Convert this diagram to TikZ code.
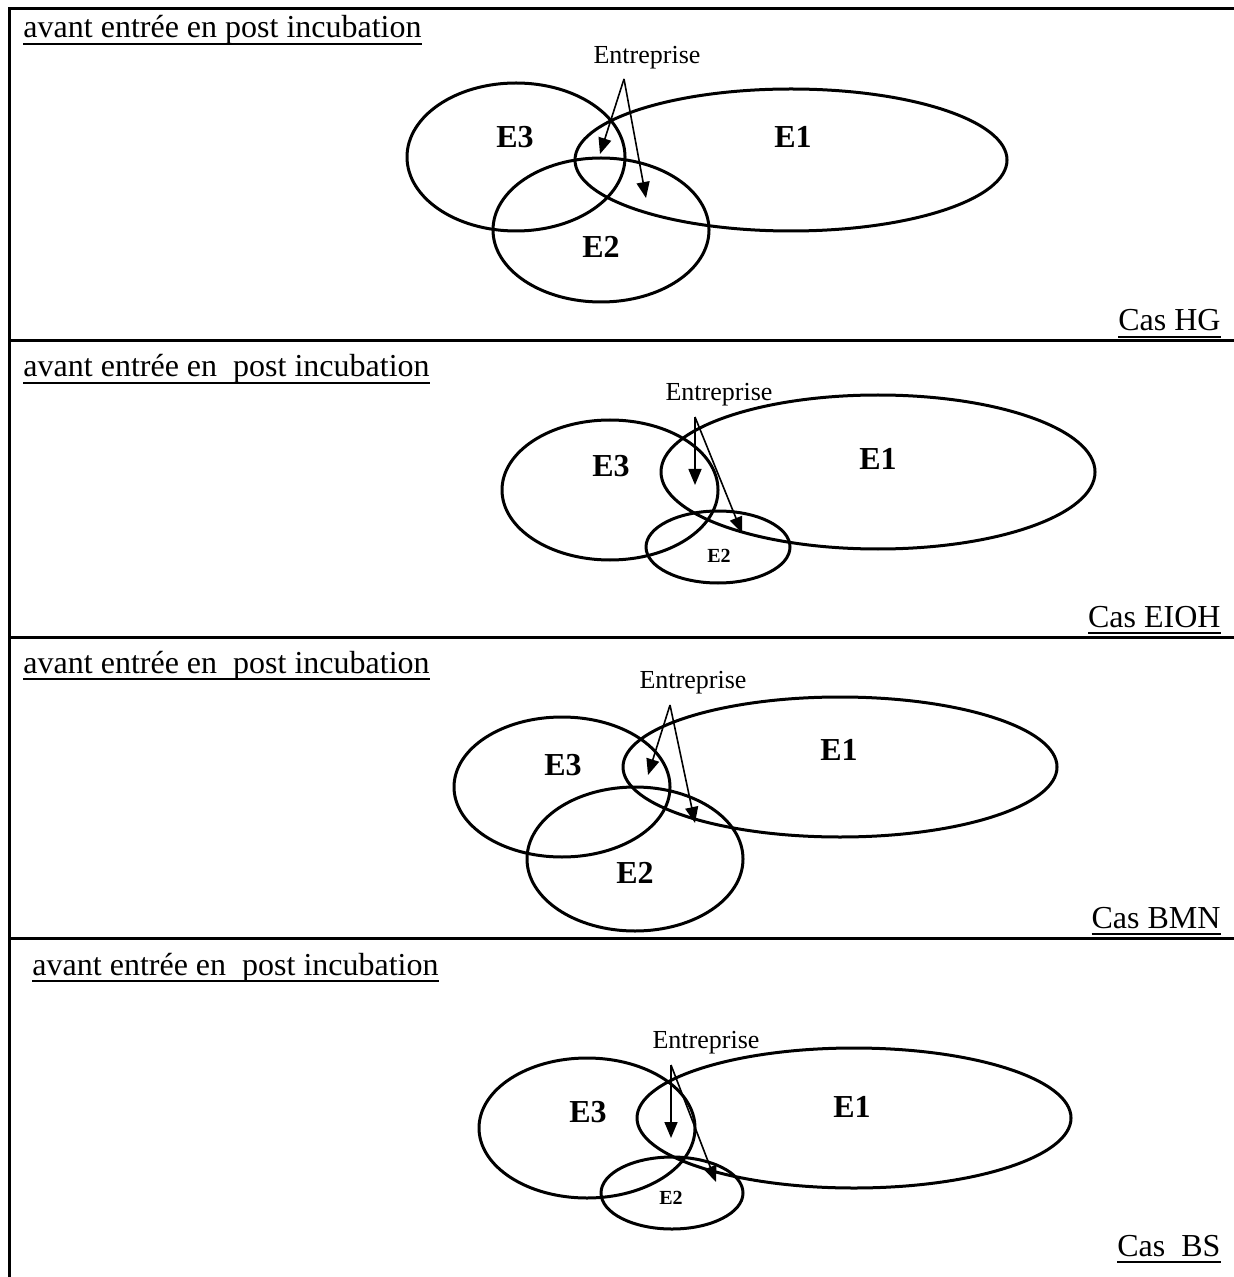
\documentclass[tikz,border=0pt]{standalone}
\usepackage{fontspec}
\setmainfont{Liberation Serif}
\usetikzlibrary{arrows.meta,positioning,shapes.geometric}
\newsavebox{\soulbox}
\newcommand{\souligne}[1]{\sbox{\soulbox}{#1}\rlap{\rule[-3.5pt]{\wd\soulbox}{1pt}}\usebox{\soulbox}}

\begin{document}
\begin{tikzpicture}[x=0.5pt, y=-0.5pt, line width=1.5pt,
  zone/.style 2 args={draw, ellipse, inner sep=0pt, minimum width=#1pt, minimum height=#2pt},
  nom/.style={inner sep=0pt, font=\fontsize{16}{19}\selectfont\bfseries},
  petit/.style={inner sep=0pt, font=\fontsize{10}{12}\selectfont\bfseries},
  titre/.style={anchor=base west, inner sep=0pt, font=\fontsize{16}{19}\selectfont},
  cas/.style={anchor=base east, inner sep=0pt, font=\fontsize{16}{19}\selectfont},
  ent/.style={inner sep=0pt, font=\fontsize{13}{15}\selectfont},
  fl/.style={line width=0.8pt, -{Triangle[length=8pt,width=6.5pt]}}]
\useasboundingbox (0,0) rectangle (1234,1277);
% cadre et separations
\draw (9,1277) -- (9,9) -- (1234,9);
\draw (9,341) -- (1234,341);
\draw (9,637) -- (1234,637);
\draw (9,938) -- (1234,938);

% cas HG
\node[titre] (t1) at (22,38) {\souligne{avant entrée en post incubation}};
\node[zone={109}{74}] (e3a) at (516,157) {};
\node[zone={216}{71}] (e1a) at (791,160) {};
\node[zone={108}{72}] (e2a) at (601,230) {};
\node[nom] (l3a) at (515,137) {E3};
\node[nom] (l1a) at (793,137) {E1};
\node[nom] (l2a) at (601,247) {E2};
\node[ent] (ea) at (647,58) {Entreprise};
\coordinate (sa) at (624,79);
\coordinate (pa1) at (600,154);
\coordinate (pa2) at (646,198);
\draw[fl] (sa) -- (pa1);
\draw[fl] (sa) -- (pa2);
\node[cas] (ca) at (1222,331) {\souligne{Cas HG}};

% cas EIOH
\node[titre] (t2) at (22,377) {\souligne{avant entrée en\ \ post incubation}};
\node[zone={108}{70}] (e3b) at (610,490) {};
\node[zone={217}{77}] (e1b) at (878,472) {};
\node[zone={72}{36}] (e2b) at (718,547) {};
\node[nom] (l3b) at (611,466) {E3};
\node[nom] (l1b) at (878,459) {E1};
\node[petit] (l2b) at (719,556) {E2};
\node[ent] (eb) at (719,395) {Entreprise};
\coordinate (sb) at (695,417);
\coordinate (pb1) at (695,485);
\coordinate (pb2) at (742,533);
\draw[fl] (sb) -- (pb1);
\draw[fl] (sb) -- (pb2);
\node[cas] (cb) at (1222,627) {\souligne{Cas EIOH}};

% cas BMN
\node[titre] (t3) at (22,673) {\souligne{avant entrée en\ \ post incubation}};
\node[zone={108}{70}] (e3c) at (562,787) {};
\node[zone={217}{70}] (e1c) at (840,767) {};
\node[zone={108}{72}] (e2c) at (635,859) {};
\node[nom] (l3c) at (563,765) {E3};
\node[nom] (l1c) at (839,750) {E1};
\node[nom] (l2c) at (635,873) {E2};
\node[ent] (ec) at (693,683) {Entreprise};
\coordinate (sc) at (670,705);
\coordinate (pc1) at (648,775);
\coordinate (pc2) at (695,823);
\draw[fl] (sc) -- (pc1);
\draw[fl] (sc) -- (pc2);
\node[cas] (cc) at (1222,928) {\souligne{Cas BMN}};

% cas BS
\node[titre] (t4) at (31,975) {\souligne{avant entrée en\ \ post incubation}};
\node[zone={108}{70}] (e3d) at (587,1128) {};
\node[zone={217}{70}] (e1d) at (854,1118) {};
\node[zone={71}{36}] (e2d) at (672,1193) {};
\node[nom] (l3d) at (588,1112) {E3};
\node[nom] (l1d) at (852,1107) {E1};
\node[petit] (l2d) at (671,1198) {E2};
\node[ent] (ed) at (706,1043) {Entreprise};
\coordinate (sd) at (671,1065);
\coordinate (pd1) at (671,1138);
\coordinate (pd2) at (716,1182);
\draw[fl] (sd) -- (pd1);
\draw[fl] (sd) -- (pd2);
\node[cas] (cd) at (1222,1256) {\souligne{Cas\ \ BS}};
\end{tikzpicture}
\end{document}
